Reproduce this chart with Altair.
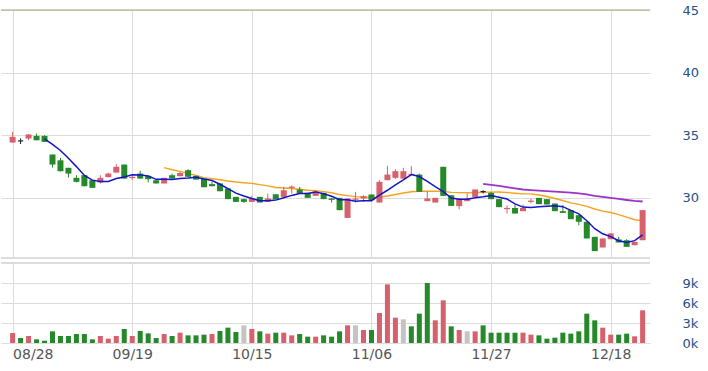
import altair as alt
import pandas as pd

# ---- data ----
tick_labels = ["08/28", "09/19", "10/15", "11/06", "11/27", "12/18"]
tick_index = [0, 15, 30, 45, 60, 75]

opens = [34.42, 34.55, 34.74, 34.95, 34.95, 33.46, 33.00, 32.40, 31.60, 31.81,
         31.41, 31.23, 31.65, 32.02, 32.66, 31.58, 31.94, 31.76, 31.41, 31.15,
         31.81, 31.73, 32.21, 31.76, 31.54, 31.10, 31.15, 30.75, 30.08, 29.90,
         29.68, 30.08, 29.68, 30.29, 30.08, 30.80, 30.67, 30.40, 30.16, 30.40,
         29.95, 30.00, 28.40, 29.85, 29.95, 30.27, 29.63, 31.41, 31.60, 31.54,
         31.84, 31.86, 29.74, 29.63, 32.48, 30.21, 29.34, 29.74, 30.08, 30.50,
         30.40, 29.90, 29.10, 29.20, 28.94, 29.68, 30.00, 29.90, 29.55, 28.94,
         29.02, 28.62, 28.09, 26.89, 26.04, 26.70, 26.68, 26.62, 26.22, 26.62]
highs = [35.27, 34.75, 35.10, 35.13, 35.00, 33.46, 33.19, 32.40, 31.81, 31.81,
         31.41, 31.81, 32.00, 32.69, 32.66, 31.80, 32.16, 31.76, 31.41, 31.60,
         31.94, 32.05, 32.29, 31.76, 31.54, 31.28, 31.15, 30.75, 30.08, 29.95,
         30.16, 30.08, 30.35, 30.29, 30.88, 31.00, 30.88, 30.40, 30.60, 30.40,
         29.98, 30.00, 29.95, 30.48, 30.20, 30.27, 31.41, 32.56, 32.29, 32.40,
         32.53, 31.94, 30.53, 30.00, 32.48, 30.21, 29.95, 30.35, 30.67, 30.61,
         30.48, 29.90, 29.40, 29.47, 29.47, 29.95, 30.00, 29.90, 29.55, 29.42,
         29.02, 28.62, 28.09, 26.89, 26.76, 27.20, 26.89, 26.70, 26.49, 29.02]
lows = [34.42, 34.30, 34.60, 34.60, 34.47, 32.42, 32.10, 31.62, 31.23, 30.93,
        30.80, 31.15, 31.65, 32.02, 31.54, 31.45, 31.54, 31.23, 31.15, 31.15,
        31.54, 31.73, 31.68, 31.46, 30.85, 30.93, 30.53, 29.90, 29.68, 29.60,
        29.68, 29.63, 29.68, 29.90, 30.08, 30.35, 30.35, 30.00, 30.16, 29.90,
        29.63, 29.02, 28.40, 29.63, 29.68, 29.82, 29.63, 31.41, 31.50, 31.54,
        31.80, 30.48, 29.74, 29.63, 30.16, 29.36, 29.10, 29.74, 30.08, 30.35,
        29.90, 29.26, 28.75, 28.75, 28.94, 29.55, 29.50, 29.47, 28.94, 28.80,
        28.30, 27.82, 26.76, 25.75, 26.04, 26.70, 26.44, 26.09, 26.22, 26.62]
closes = [34.87, 34.55, 35.06, 34.60, 34.47, 32.66, 32.13, 31.94, 31.28, 30.93,
          30.80, 31.60, 31.94, 32.48, 31.54, 31.68, 31.54, 31.49, 31.15, 31.60,
          31.54, 31.99, 31.68, 31.46, 30.85, 30.93, 30.53, 29.90, 29.68, 29.68,
          29.95, 29.63, 29.95, 29.90, 30.61, 30.90, 30.35, 30.00, 30.53, 29.90,
          29.84, 29.02, 29.95, 29.95, 30.13, 29.82, 31.28, 31.86, 32.13, 32.13,
          31.92, 30.48, 29.95, 30.00, 30.16, 29.36, 29.95, 29.95, 30.67, 30.50,
          29.90, 29.26, 29.20, 28.75, 29.20, 29.78, 29.50, 29.47, 28.94, 28.80,
          28.30, 28.09, 26.76, 25.75, 26.76, 27.16, 26.44, 26.09, 26.49, 29.02]
volumes = [1500, 750, 1050, 550, 350, 1750, 1050, 1050, 1350, 1350,
           550, 1050, 650, 1050, 2100, 1050, 1800, 1450, 750, 1350,
           1050, 1550, 1150, 1150, 1250, 1350, 1800, 2300, 1650, 2650,
           2100, 1750, 1400, 1550, 1550, 1150, 1350, 950, 950, 1150,
           950, 1750, 2650, 2650, 1950, 1950, 4500, 8800, 3800, 3550,
           2500, 4400, 9000, 3400, 6400, 2500, 1950, 1750, 1750, 2650,
           1550, 1550, 1550, 1550, 1550, 1250, 1150, 650, 800, 1550,
           1400, 1750, 4400, 3400, 2300, 1250, 1250, 1400, 1000, 4900]
volume_dir = ["u", "d", "u", "d", "d", "d", "d", "d", "d", "d",
              "d", "u", "u", "u", "d", "u", "d", "d", "d", "u",
              "d", "u", "d", "d", "d", "u", "d", "d", "d", "f",
              "u", "d", "u", "d", "u", "u", "d", "d", "u", "d",
              "d", "d", "u", "f", "u", "d", "u", "u", "u", "f",
              "d", "d", "d", "u", "u", "d", "u", "f", "u", "d",
              "d", "d", "d", "d", "u", "u", "d", "d", "d", "d",
              "d", "d", "d", "d", "u", "u", "d", "d", "u", "u"]

RED = "#d6606b"
GREEN = "#25892a"
GRAY = "#c4c4c4"
GRID = "#dcdcdc"
LABEL_BLUE = "#24508c"
FONT = "DejaVu Sans"
W = 649

df = pd.DataFrame({"i": list(range(len(closes))), "o": opens, "h": highs,
                   "l": lows, "c": closes, "v": volumes, "vd": volume_dir})

label_expr = ""
for k, t in zip(tick_index, tick_labels):
    label_expr += f"datum.value == {k} ? '{t}' : "
label_expr += "''"

xscale = alt.Scale(domain=[-0.83, 79.3], nice=False, zero=False)
yscale = alt.Scale(domain=[25.2, 45], nice=False, zero=False)
vscale = alt.Scale(domain=[0, 12000], nice=False)

x_top_axis = alt.Axis(values=tick_index, labels=False, ticks=False, domain=False,
                      grid=True, gridColor=GRID, title=None)
y_top_axis = alt.Axis(orient="right", values=[30, 35, 40, 45], ticks=False, domain=False,
                      grid=True, gridColor=GRID, labelPadding=32, labelColor=LABEL_BLUE,
                      labelFont=FONT, labelFontSize=13, title=None)


def X(field):
    return alt.X(field, scale=xscale, axis=x_top_axis, title=None)


def Y(field):
    return alt.Y(field, scale=yscale, axis=y_top_axis, title=None)


dir_color = alt.Color("dir:N", scale=alt.Scale(domain=["up", "down", "flat"],
                                               range=[RED, GREEN, "#222222"]), legend=None)

base = alt.Chart(df).transform_calculate(
    dir="datum.c > datum.o ? 'up' : (datum.c < datum.o ? 'down' : 'flat')"
)

top_rule = alt.Chart(pd.DataFrame({"c": [45]})).mark_rule(color="#a7a27c", strokeWidth=1).encode(
    y=Y("c:Q"))
bottom_rule = alt.Chart(df).mark_rule(color="#dddddd", strokeWidth=1).encode(
    x=alt.value(0), x2=alt.value(W), y=alt.value(248))

wicks = base.mark_rule(strokeWidth=1).encode(
    x=X("i:Q"), y=Y("l:Q"), y2="h:Q", color=dir_color)
bodies = base.mark_bar(size=6).encode(
    x=X("i:Q"), y=Y("o:Q"), y2="c:Q", color=dir_color)
doji = base.transform_filter("datum.o == datum.c").transform_calculate(
    x1="datum.i - 0.33", x2="datum.i + 0.33"
).mark_rule(strokeWidth=1.2, color="#222222").encode(
    x=X("x1:Q"), x2="x2:Q", y=Y("c:Q"))


def ma_line(n, color, width):
    return alt.Chart(df).transform_window(
        ma="mean(c)", frame=[-(n - 1), 0], sort=[alt.SortField("i")]
    ).transform_filter(f"datum.i >= {n - 1}").mark_line(
        color=color, strokeWidth=width
    ).encode(x=X("i:Q"), y=Y("ma:Q"))


ma5 = ma_line(5, "#1414c8", 1.5)
ma20 = ma_line(20, "#f5a21e", 1.4)
ma60 = ma_line(60, "#9b33c6", 1.8)

upper = alt.layer(top_rule, bottom_rule, ma60, ma20, wicks, bodies, doji, ma5).properties(
    width=W, height=248)

vol_bars = alt.Chart(df).mark_bar(size=5).encode(
    x=alt.X("i:Q", scale=xscale,
            axis=alt.Axis(values=tick_index, labelExpr=label_expr, ticks=False, domain=False,
                          grid=True, gridColor=GRID, labelFlush=False,
                          labelAlign={"condition": {"test": "datum.value == 0", "value": "left"},
                                      "value": "center"},
                          labelPadding=4, labelColor="#555555", labelFont=FONT,
                          labelFontSize=14, title=None)),
    y=alt.Y("v:Q", scale=vscale,
            axis=alt.Axis(orient="right", values=[0, 3000, 6000, 9000], ticks=False, domain=False,
                          grid=True, gridColor=GRID, labelPadding=32, labelColor=LABEL_BLUE,
                          labelFont=FONT, labelFontSize=13, title=None,
                          labelExpr="(datum.value / 1000) + 'k'")),
    color=alt.Color("vd:N", scale=alt.Scale(domain=["u", "d", "f"], range=[RED, GREEN, GRAY]),
                    legend=None),
)
vol_top = alt.Chart(df).mark_rule(color="#dcdcdc", strokeWidth=2).encode(
    x=alt.value(0), x2=alt.value(W), y=alt.value(0))

lower = alt.layer(vol_bars, vol_top).properties(width=W, height=80)

chart = alt.vconcat(upper, lower, spacing=3).resolve_scale(color="independent").properties(
    padding={"left": 0, "top": 4, "right": 5, "bottom": 5},
    background="white",
).configure_view(stroke=None)

chart.save("out.html", embed_options={"renderer": "svg", "actions": False})
